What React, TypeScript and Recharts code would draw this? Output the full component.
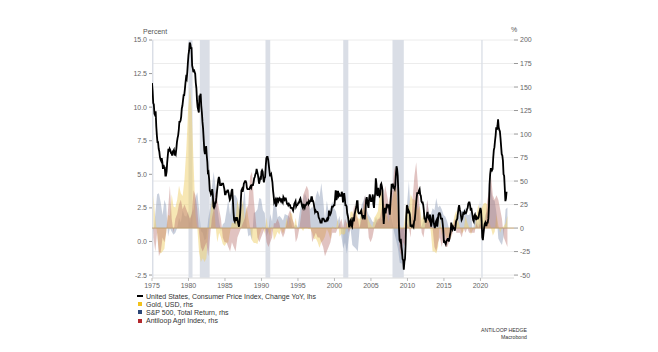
import React from 'react';
import {
  ComposedChart, Line, Area, XAxis, YAxis, CartesianGrid, ReferenceArea, ReferenceLine,
} from 'recharts';

// US CPI YoY %, monthly from Jan 1975
const CPI_START = 1975;
const CPI_YOY = [
  11.8, 11.2, 10.3, 10.2, 9.5, 9.4, 9.7, 8.6, 7.9, 7.4, 7.4, 6.9,
  6.7, 6.3, 6.1, 6.0, 6.2, 5.9, 5.4, 5.7, 5.5, 5.5, 4.9, 4.9,
  5.2, 5.9, 6.4, 6.9, 6.7, 6.9, 6.8, 6.6, 6.6, 6.4, 6.7, 6.7,
  6.8, 6.4, 6.6, 6.5, 6.9, 7.4, 7.7, 7.9, 8.3, 8.9, 8.9, 9.0,
  9.3, 9.9, 10.1, 10.5, 10.9, 10.9, 11.3, 11.8, 12.2, 12.1, 12.6, 13.3,
  13.9, 14.2, 14.8, 14.7, 14.4, 14.4, 13.1, 12.9, 12.6, 12.8, 12.6, 12.5,
  11.8, 11.4, 10.5, 10.0, 9.8, 9.6, 10.8, 10.8, 11.0, 10.1, 9.6, 8.9,
  8.4, 7.6, 6.8, 6.5, 6.7, 7.1, 6.4, 5.9, 5.0, 5.1, 4.6, 3.8,
  3.7, 3.5, 3.6, 3.9, 3.5, 2.6, 2.5, 2.6, 2.9, 2.9, 3.3, 3.8,
  4.2, 4.6, 4.8, 4.6, 4.2, 4.2, 4.2, 4.3, 4.3, 4.3, 4.1, 3.9,
  3.5, 3.5, 3.7, 3.7, 3.8, 3.8, 3.6, 3.3, 3.1, 3.2, 3.5, 3.8,
  3.9, 3.1, 2.2, 1.6, 1.5, 1.8, 1.6, 1.6, 1.8, 1.5, 1.3, 1.1,
  1.5, 2.1, 3.0, 3.8, 3.9, 3.7, 3.9, 4.3, 4.4, 4.5, 4.5, 4.4,
  4.0, 3.9, 3.9, 3.9, 3.9, 4.0, 4.1, 4.0, 4.2, 4.2, 4.2, 4.4,
  4.7, 4.8, 5.0, 5.1, 5.4, 5.2, 5.0, 4.7, 4.3, 4.5, 4.7, 4.6,
  5.2, 5.3, 5.2, 4.7, 4.4, 4.7, 4.8, 5.6, 6.2, 6.3, 6.3, 6.1,
  5.7, 5.3, 4.9, 4.9, 5.0, 4.7, 4.4, 3.8, 3.4, 2.9, 3.0, 3.1,
  2.6, 2.8, 3.2, 3.2, 3.0, 3.1, 3.2, 3.1, 3.0, 3.2, 3.0, 2.9,
  3.3, 3.2, 3.1, 3.2, 3.2, 3.0, 2.8, 2.8, 2.7, 2.8, 2.7, 2.7,
  2.5, 2.5, 2.5, 2.4, 2.3, 2.5, 2.8, 2.9, 3.0, 2.6, 2.7, 2.7,
  2.8, 2.9, 2.9, 3.1, 3.2, 3.0, 2.8, 2.6, 2.5, 2.8, 2.6, 2.5,
  2.7, 2.7, 2.8, 2.9, 2.9, 2.8, 3.0, 2.9, 3.0, 3.0, 3.3, 3.3,
  3.0, 3.0, 2.8, 2.5, 2.2, 2.3, 2.2, 2.2, 2.2, 2.1, 1.8, 1.7,
  1.6, 1.4, 1.4, 1.4, 1.7, 1.7, 1.7, 1.6, 1.5, 1.5, 1.5, 1.6,
  1.7, 1.6, 1.7, 2.3, 2.1, 2.0, 2.1, 2.3, 2.6, 2.6, 2.6, 2.7,
  2.7, 3.2, 3.8, 3.1, 3.2, 3.7, 3.7, 3.4, 3.5, 3.4, 3.4, 3.4,
  3.7, 3.5, 2.9, 3.3, 3.6, 3.2, 2.7, 2.7, 2.6, 2.1, 1.9, 1.6,
  1.1, 1.1, 1.5, 1.6, 1.2, 1.1, 1.5, 1.8, 1.5, 2.0, 2.2, 2.4,
  2.6, 3.0, 3.0, 2.2, 2.1, 2.1, 2.1, 2.2, 2.3, 2.0, 1.8, 1.9,
  1.9, 1.7, 1.7, 2.3, 3.1, 3.3, 3.0, 2.7, 2.5, 3.2, 3.5, 3.3,
  3.0, 3.0, 3.1, 3.5, 2.8, 2.5, 3.2, 3.6, 4.7, 4.3, 3.5, 3.4,
  4.0, 3.6, 3.4, 3.5, 4.2, 4.3, 4.1, 3.8, 2.1, 1.3, 2.0, 2.5,
  2.1, 2.4, 2.8, 2.6, 2.7, 2.7, 2.4, 2.0, 2.8, 3.5, 4.3, 4.1,
  4.3, 4.0, 4.0, 3.9, 4.2, 5.0, 5.6, 5.4, 4.9, 3.7, 1.1, 0.1,
  0.0, 0.2, -0.4, -0.7, -1.3, -1.4, -2.1, -1.5, -1.3, -0.2, 1.8, 2.7,
  2.6, 2.1, 2.3, 2.2, 2.0, 1.1, 1.2, 1.1, 1.1, 1.2, 1.1, 1.5,
  1.6, 2.1, 2.7, 3.2, 3.6, 3.6, 3.6, 3.8, 3.9, 3.5, 3.4, 3.0,
  2.9, 2.9, 2.7, 2.3, 1.7, 1.7, 1.4, 1.7, 2.0, 2.2, 1.8, 1.7,
  1.6, 2.0, 1.5, 1.1, 1.4, 1.8, 2.0, 1.5, 1.2, 1.0, 1.2, 1.5,
  1.6, 1.1, 1.5, 2.0, 2.1, 2.1, 2.0, 1.7, 1.7, 1.7, 1.3, 0.8,
  -0.1, 0.0, -0.1, -0.2, 0.0, 0.1, 0.2, 0.2, 0.0, 0.2, 0.5, 0.7,
  1.4, 1.0, 0.9, 1.1, 1.0, 1.0, 0.8, 1.1, 1.5, 1.6, 1.7, 2.1,
  2.5, 2.7, 2.4, 2.2, 1.9, 1.6, 1.7, 1.9, 2.2, 2.0, 2.2, 2.1,
  2.1, 2.2, 2.4, 2.5, 2.8, 2.9, 2.9, 2.7, 2.3, 2.5, 2.2, 1.9,
  1.6, 1.5, 1.9, 2.0, 1.8, 1.6, 1.8, 1.7, 1.7, 1.8, 2.1, 2.3,
  2.5, 2.3, 1.5, 0.3, 0.1, 0.6, 1.0, 1.3, 1.4, 1.2, 1.2, 1.4,
  1.4, 1.7, 2.6, 4.2, 5.0, 5.4, 5.4, 5.3, 5.4, 6.2, 6.8, 7.0,
  7.5, 7.9, 8.5, 8.3, 8.6, 9.1, 8.5, 8.3, 8.2, 7.7, 7.1, 6.5,
  6.4, 6.0, 5.0, 4.9, 4.0, 3.0, 3.2, 3.7,
];

// Quarterly YoY %, from Q1 1975 (rhs)
const Q_START = 1975;
const GOLD_YOY = [
  35, 10, -5, -25, -27, -25, -22, -4, 14, 13, 36, 23, 22, 30, 45, 37,
  34, 52, 83, 127, 150, 125, 68, 15, 1, -26, -36, -32, -36, -32, -7, 12,
  29, 31, 3, -15, -5, -10, -17, -19, -16, -15, -4, 6, 5, 9, 30, 20,
  19, 30, 9, 24, 11, 0, -13, -16, -16, -17, -8, -2, 2, -6, 11, -4,
  -9, 4, -13, -9, -4, -7, -1, -6, -1, 11, 2, 17, 15, 2, 11, -2,
  1, 0, -3, 1, 1, -1, -1, -5, -12, -11, -15, -21, -15, -13, -9, -1,
  -5, -12, 2, 0, -1, 10, -9, -6, -7, -6, 7, 2, 17, 18, 10, 25,
  11, 9, 19, 20, 27, 14, 8, 4, 1, 11, 14, 18, 36, 40, 27, 23,
  14, 6, 24, 32, 41, 43, 19, 4, -2, 0, 13, 26, 21, 36, 31, 30,
  29, 19, 24, 8, 15, 6, 9, 8, -4, -25, -25, -27, -20, 11, -8, 0,
  -8, -12, -8, -12, 4, 13, 19, 8, 1, -6, -3, 13, 6, 1, -7, -1,
  -2, 13, 25, 18, 22, 26, 27, 25, 7, 0, -8, -4, 15, 3, -5, 0,
  2, 5, 13,
];
const SPX_YOY = [
  -7, 15, 36, 37, 27, 14, 30, 24, -9, 0, -4, -7, -5, 0, 11, 6,
  19, 13, 12, 18, 5, 16, 20, 32, 38, 20, -3, -5, -13, -11, 9, 21,
  43, 60, 44, 22, 7, -4, 4, 6, 18, 30, 14, 31, 35, 35, 31, 18,
  26, 25, 42, 5, -9, -7, -13, 16, 17, 20, 32, 31, 19, 16, -9, -3,
  15, 7, 31, 30, 11, 13, 11, 8, 15, 14, 13, 10, 1, 1, 4, 1,
  15, 26, 30, 37, 32, 26, 20, 23, 19, 34, 40, 33, 48, 30, 9, 29,
  18, 22, 28, 21, 18, 7, 13, -9, -22, -15, -27, -12, 0, -18, -20, -22,
  -25, 0, 24, 29, 35, 19, 14, 11, 7, 6, 12, 5, 12, 9, 11, 16,
  12, 21, 16, 5, -5, -13, -22, -37, -38, -26, -7, 26, 50, 14, 10, 15,
  16, 31, 1, 2, 9, 5, 30, 16, 14, 21, 19, 32, 22, 24, 20, 14,
  12, 7, -1, 1, 2, 4, 15, 12, 17, 18, 19, 22, 14, 14, 18, -4,
  9, 10, 4, 31, -7, 7, 15, 18, 56, 41, 30, 29, 16, -11, -15, -18,
  -8, 20, 22,
];
const AGRI_YOY = [
  -10, -25, -5, -30, -25, -10, -15, -5, 20, 45, 10, -5, 10, 15, 25, 30,
  20, 25, 20, 15, 10, 15, 40, 35, 20, -5, -20, -25, -20, -15, -30, -10,
  10, 20, 40, 30, 20, 10, -10, -15, -15, -20, -25, -15, -20, -25, -10, -5,
  0, 5, 10, 20, 25, 55, 60, 30, 10, -10, -15, -10, -5, 0, -15, -20,
  -15, -10, 5, 5, 10, 5, -5, -10, -5, 5, 15, 20, 10, 5, -15, -10,
  0, 15, 35, 40, 45, 40, 5, -15, -10, -5, -10, -10, -15, -20, -30, -25,
  -20, -15, -5, -5, -5, 0, 5, 10, 0, 10, 5, -5, 0, 10, 25, 15,
  10, 0, 10, 25, 35, 15, -10, -15, -10, 0, 5, 10, 10, 20, 30, 45,
  35, 25, 40, 40, 65, 55, 10, -25, -30, -15, -20, 5, 0, -10, 30, 55,
  70, 45, 20, -5, -10, 5, 30, 15, 5, 0, -20, -25, -15, -10, -20, -10,
  -20, -20, -15, -10, -5, 10, -5, -5, -5, -10, 0, -5, 0, -5, -5, -5,
  -5, 5, 0, 5, 0, -10, 10, 30, 40, 55, 35, 30, 35, 30, 20, 10,
  -10, -15, -20,
];

const X_TICKS = [1975, 1980, 1985, 1990, 1995, 2000, 2005, 2010, 2015, 2020];
const LHS_TICKS = [-2.5, 0, 2.5, 5, 7.5, 10, 12.5, 15];
const RHS_TICKS = [-50, -25, 0, 25, 50, 75, 100, 125, 150, 175, 200];
const RECESSIONS: [number, number][] = [
  [1975, 1975.2], [1980.0, 1980.55], [1981.55, 1982.9], [1990.55, 1991.2],
  [2001.2, 2001.9], [2007.95, 2009.5], [2020.12, 2020.3],
];
const LEGEND_ITEMS = [
  { label: 'United States, Consumer Price Index, Change YoY, lhs', color: '#000000', kind: 'line' },
  { label: 'Gold, USD, rhs', color: '#f2c21b', kind: 'box' },
  { label: 'S&P 500, Total Return, rhs', color: '#2b4676', kind: 'box' },
  { label: 'Antiloop Agri Index, rhs', color: '#b3282d', kind: 'box' },
];

const cpiData = CPI_YOY.map((v, i) => ({ t: CPI_START + i / 12, cpi: v }));
const qData = GOLD_YOY.map((g, i) => ({
  t: Q_START + i * 0.25 + 0.2,
  gold: g,
  spx: SPX_YOY[i],
  agri: AGRI_YOY[i],
}));

const FONT = '"Liberation Sans", Arial, sans-serif';
const tickStyle = { fontSize: 7, fill: '#666', fontFamily: FONT };

export default function App() {
  return (
    <div style={{ position: 'absolute', left: 0, top: 0, width: 658, height: 352, background: '#fff', fontFamily: FONT }}>
      <ComposedChart width={658} height={352} margin={{ top: 40, right: 0, bottom: 54, left: 0 }}>
        <CartesianGrid yAxisId="right" vertical={false} stroke="#ececec" strokeWidth={1} />
        <XAxis
          type="number"
          dataKey="t"
          domain={[1975, 2024.6]}
          allowDataOverflow
          ticks={X_TICKS}
          tick={tickStyle}
          tickLine={{ stroke: '#bbb' }}
          axisLine={{ stroke: '#e2e2e2' }}
          tickSize={3}
          tickMargin={2}
          height={20}
        />
        <YAxis
          yAxisId="left"
          orientation="left"
          width={152}
          domain={[-2.72, 15]}
          allowDataOverflow
          ticks={LHS_TICKS}
          tickFormatter={(v: number) => v.toFixed(1)}
          tick={tickStyle}
          tickLine={{ stroke: '#999' }}
          axisLine={false}
          tickSize={3}
          tickMargin={2}
        />
        <YAxis
          yAxisId="right"
          orientation="right"
          width={144}
          domain={[-53.1, 200]}
          allowDataOverflow
          ticks={RHS_TICKS}
          tick={tickStyle}
          tickLine={{ stroke: '#999' }}
          axisLine={false}
          tickSize={4}
          tickMargin={2}
        />
        {RECESSIONS.map(([a, b], i) => (
          <ReferenceArea
            key={i}
            yAxisId="right"
            x1={a}
            x2={b}
            y1={-53.1}
            y2={200}
            fill="#dadee6"
            fillOpacity={1}
            stroke="none"
            ifOverflow="hidden"
            zIndex={-60}
          />
        ))}
        <Area
          yAxisId="right"
          data={qData}
          dataKey="spx"
          type="linear"
          baseValue={0}
          fill="#8796b3"
          fillOpacity={0.45}
          stroke="none"
          isAnimationActive={false}
        />
        <Area
          yAxisId="right"
          data={qData}
          dataKey="gold"
          type="linear"
          baseValue={0}
          fill="#f0cf6a"
          fillOpacity={0.5}
          stroke="none"
          isAnimationActive={false}
        />
        <Area
          yAxisId="right"
          data={qData}
          dataKey="agri"
          type="linear"
          baseValue={0}
          fill="#b8706c"
          fillOpacity={0.42}
          stroke="none"
          isAnimationActive={false}
        />
        <ReferenceLine yAxisId="right" y={0} stroke="#c4a374" strokeWidth={1} />
        <Line
          yAxisId="left"
          data={cpiData}
          dataKey="cpi"
          type="linear"
          stroke="#000"
          strokeWidth={1.8}
          dot={false}
          isAnimationActive={false}
        />
      </ComposedChart>
      <div style={{ position: 'absolute', left: 143, top: 28, fontSize: 7, color: '#555' }}>Percent</div>
      <div style={{ position: 'absolute', left: 511, top: 26, fontSize: 7, color: '#555' }}>%</div>
      <div style={{ position: 'absolute', left: 137, top: 292 }}>
        {LEGEND_ITEMS.map((it, i) => (
          <div key={i} style={{ display: 'flex', alignItems: 'center', height: 8.2, fontSize: 7, color: '#333', whiteSpace: 'nowrap' }}>
            {it.kind === 'line' ? (
              <span style={{ display: 'inline-block', width: 6, height: 2, background: it.color, marginRight: 3 }} />
            ) : (
              <span style={{ display: 'inline-block', width: 4, height: 4, background: it.color, marginLeft: 1, marginRight: 4 }} />
            )}
            <span>{it.label}</span>
          </div>
        ))}
      </div>
      <div style={{ position: 'absolute', right: 131, top: 327, fontSize: 5.2, color: '#333', textAlign: 'right', lineHeight: '6.5px' }}>
        <div>ANTILOOP HEDGE</div>
        <div>Macrobond</div>
      </div>
    </div>
  );
}
